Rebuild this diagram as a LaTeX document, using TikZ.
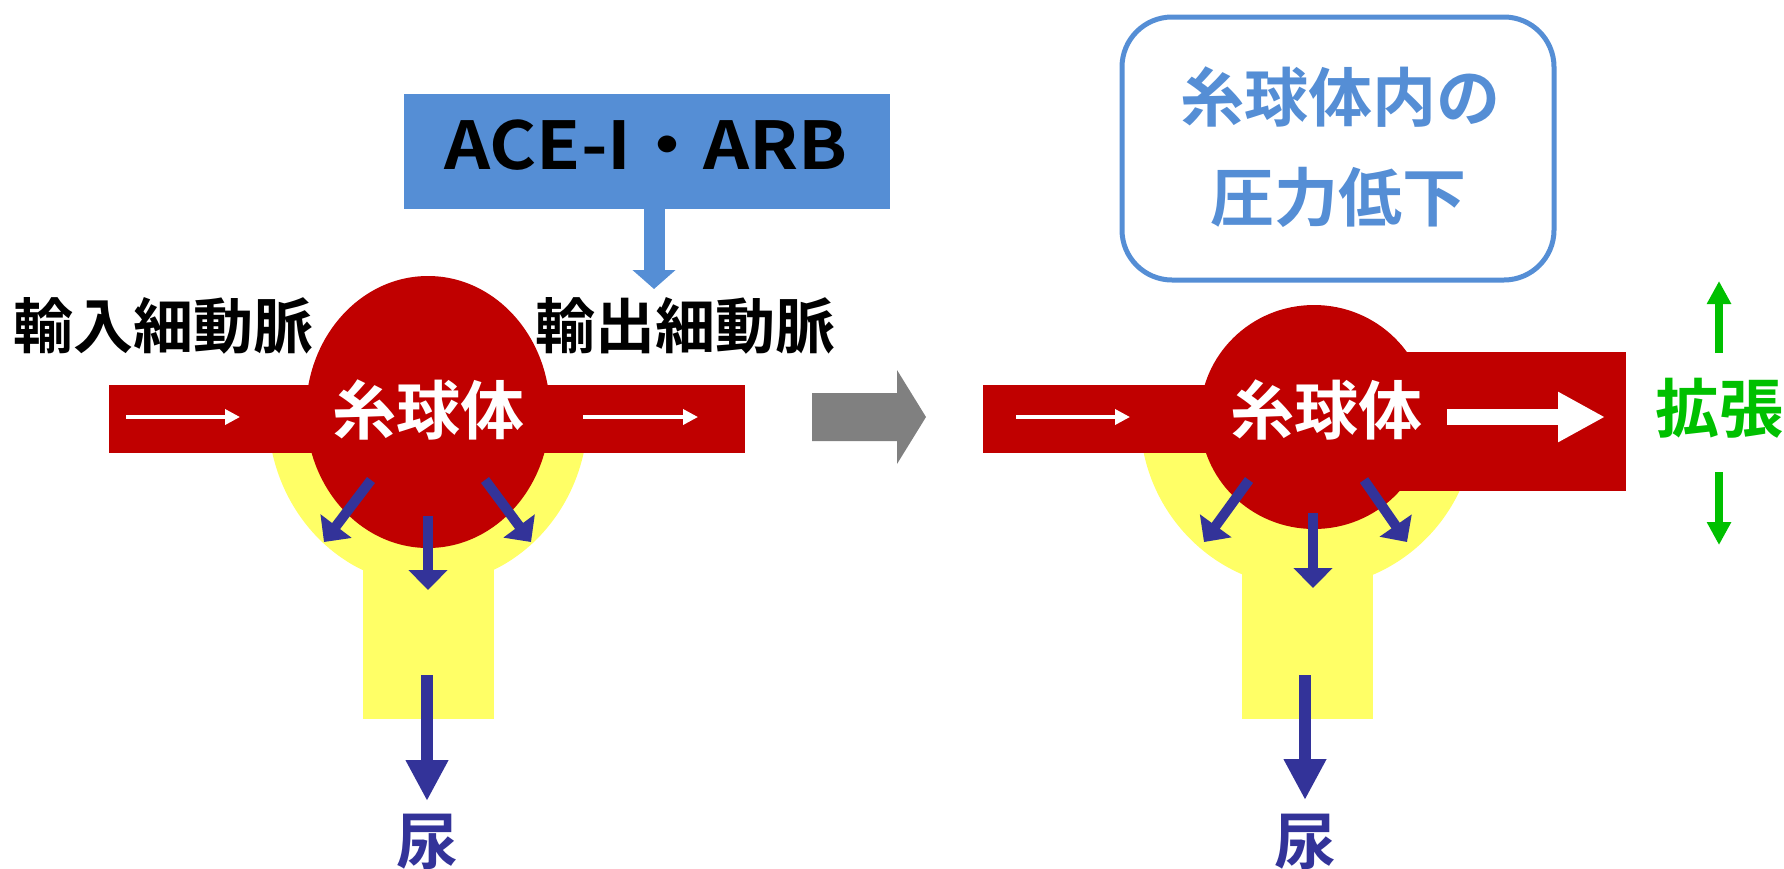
\documentclass[tikz,border=0pt]{standalone}
\usepackage{fontspec}
\newfontfamily\jpb{Noto Sans CJK JP Bold}
\usetikzlibrary{arrows.meta}
\definecolor{glomred}{RGB}{192,0,0}
\definecolor{capsule}{RGB}{255,255,102}
\definecolor{flow}{RGB}{51,51,153}
\definecolor{drug}{RGB}{85,142,213}
\definecolor{expand}{RGB}{0,192,0}
\definecolor{stepgray}{RGB}{128,128,128}
\tikzset{
  lbl/.style={inner sep=0pt, font=\jpb\fontsize{60}{72}\selectfont},
  glom/.style={inner sep=0pt, text=white, font=\jpb\fontsize{64}{76}\selectfont},
  urine/.style={inner sep=0pt, text=flow, font=\jpb\fontsize{62}{74}\selectfont},
  note/.style={inner sep=0pt, text=drug, font=\jpb\fontsize{64}{76}\selectfont},
  filt/.style={draw=flow, line width=10pt, -{Triangle[width=38pt,length=20pt,fill=flow]}},
  drain/.style={draw=flow, line width=12pt, -{Triangle[width=40pt,length=41pt,fill=flow]}},
  thinflow/.style={draw=white, line width=3.5pt, -{Triangle[width=15pt,length=15pt,fill=white]}},
  thickflow/.style={draw=white, line width=16pt, -{Triangle[width=47pt,length=47pt,fill=white]}},
  swell/.style={draw=expand, line width=8pt, -{Triangle[width=23pt,length=23pt,fill=expand]}},
  drugarrow/.style={draw=drug, line width=21pt, -{Triangle[width=42pt,length=19pt,fill=drug]}},
}
\begin{document}
\begin{tikzpicture}[x=1pt,y=-1pt]
\useasboundingbox (0,0) rectangle (1784,868);

% Bowman's capsules (only the part below the arterioles shows)
\begin{scope}
  \clip (0,453) rectangle (1784,868);
  \fill[capsule] (428,413) ellipse [x radius=160, y radius=172];
  \fill[capsule] (1308,417) ellipse [x radius=168, y radius=171];
\end{scope}
\fill[capsule] (363,540) rectangle (494,719);
\fill[capsule] (1242,540) rectangle (1373,719);

% left: arterioles and glomerulus
\fill[glomred] (109,385) rectangle (745,453);
\fill[glomred] (428,412) ellipse [x radius=122, y radius=136];

% right: smaller glomerulus, widened efferent arteriole
\fill[glomred] (983,385) rectangle (1330,453);
\fill[glomred] (1314,417) ellipse [x radius=114, y radius=112];
\fill[glomred] (1314,352) rectangle (1626,491);

% texts
\node[glom] (gL) at (428,410) {糸球体};
\node[glom] (gR) at (1326,410) {糸球体};
\node[lbl] (aff) at (163,326) {輸入細動脈};
\node[lbl] (eff) at (685,326) {輸出細動脈};
\node[urine] (uL) at (427,842) {尿};
\node[urine] (uR) at (1305,842) {尿};

% drug box
\node[fill=drug, minimum width=486pt, minimum height=115pt, inner sep=0pt] (drugbox) at (647,151.5) {};
\node[inner sep=0pt, font=\jpb\fontsize{66}{78}\selectfont] (drugtxt) at (646,145) {\scalebox{1.09}[1]{ACE-I・ARB}};
\coordinate (drugtip) at (654,289);
\draw[drugarrow] (drugbox.south -| drugtip) -- (drugtip);

% transition arrow
\fill[stepgray] (812,393) -- (897,393) -- (897,370) -- (926,417) -- (897,464) -- (897,441) -- (812,441) -- cycle;

% pressure note
\draw[drug, line width=5pt, rounded corners=50pt] (1122,17) rectangle (1554,280);
\node[note] (n1) at (1340,97) {糸球体内の};
\node[note] (n2) at (1338,197) {圧力低下};

% dilation
\node[inner sep=0pt, text=expand, font=\jpb\fontsize{64}{76}\selectfont] (dil) at (1719,408) {拡張};
\coordinate (upS) at (1719,353); \coordinate (upE) at (1719,281);
\coordinate (dnS) at (1719,472); \coordinate (dnE) at (1719,545);
\draw[swell] (upS) -- (upE);
\draw[swell] (dnS) -- (dnE);

% blood flow arrows
\coordinate (a1) at (126,417); \coordinate (a2) at (240,417);
\coordinate (e1) at (583,417); \coordinate (e2) at (698,417);
\coordinate (r1) at (1016,417); \coordinate (r2) at (1130,417);
\coordinate (w1) at (1447,417); \coordinate (w2) at (1605,417);
\draw[thinflow] (a1) -- (a2);
\draw[thinflow] (e1) -- (e2);
\draw[thinflow] (r1) -- (r2);
\draw[thickflow] (w1) -- (w2);

% filtration, left
\coordinate (fl1) at (371,480); \coordinate (fl2) at (324,542);
\coordinate (fr1) at (485,480); \coordinate (fr2) at (531,542);
\coordinate (fc1) at (428,516); \coordinate (fc2) at (428,590);
\coordinate (d1) at (427,675);
\draw[filt] (fl1) -- (fl2);
\draw[filt] (fr1) -- (fr2);
\draw[filt] (fc1) -- (fc2);
\draw[drain] (d1) -- (uL.north |- 0,801);

% filtration, right
\coordinate (gl1) at (1249,480); \coordinate (gl2) at (1204,542);
\coordinate (gr1) at (1364,480); \coordinate (gr2) at (1407,542);
\coordinate (gc1) at (1313,513); \coordinate (gc2) at (1313,588);
\coordinate (d2) at (1305,675);
\draw[filt] (gl1) -- (gl2);
\draw[filt] (gr1) -- (gr2);
\draw[filt] (gc1) -- (gc2);
\draw[drain] (d2) -- (uR.north |- 0,800);
\end{tikzpicture}
\end{document}
